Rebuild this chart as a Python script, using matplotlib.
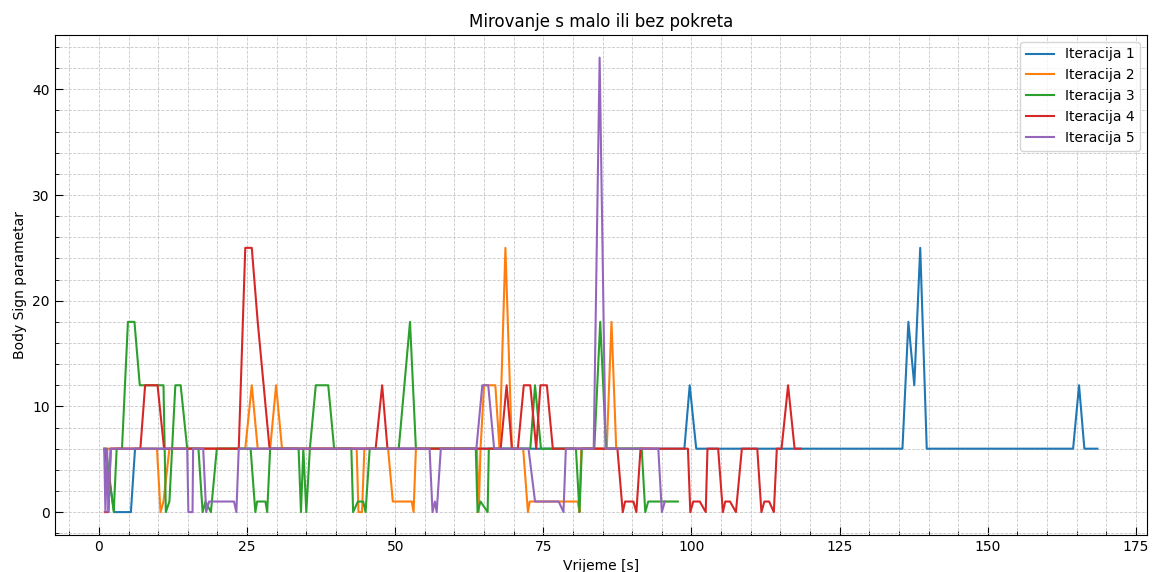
import matplotlib
matplotlib.use("Agg")
import matplotlib.pyplot as plt

# (time [s], body sign value) breakpoints
iteracija_1 = [(0.9, 6), (2.6, 0), (5.4, 0), (6.1, 6), (98.8, 6), (99.7, 12), (100.8, 6),
               (135.6, 6), (136.6, 18), (137.6, 12), (138.6, 25), (139.7, 6),
               (164.4, 6), (165.4, 12), (166.3, 6), (168.5, 6)]

iteracija_2 = [(1.0, 6), (9.8, 6), (10.4, 0), (10.9, 1), (11.9, 6), (24.7, 6), (25.8, 12),
               (26.8, 6), (28.9, 6), (29.9, 12), (30.9, 6), (43.5, 6), (43.8, 0), (44.4, 0),
               (44.8, 6), (48.8, 6), (49.6, 1), (52.8, 1), (53.1, 0), (53.5, 6), (63.8, 6),
               (64.1, 0), (64.4, 6), (65.0, 12), (66.9, 12), (67.6, 6), (68.6, 25), (69.7, 6),
               (71.6, 6), (72.4, 0), (72.7, 1), (80.8, 1), (81.1, 0), (81.4, 6), (85.7, 6),
               (86.5, 18), (87.3, 6), (93.0, 6)]

iteracija_3 = [(1.2, 6), (2.5, 0), (3.0, 6), (3.9, 6), (4.9, 18), (6.0, 18), (6.9, 12),
               (10.9, 12), (11.3, 0), (11.9, 1), (12.9, 12), (13.8, 12), (14.9, 6), (16.8, 6),
               (17.5, 0), (18.0, 1), (18.9, 0), (19.9, 6), (25.6, 6), (26.4, 0), (26.7, 1),
               (28.1, 1), (28.4, 0), (28.9, 6), (33.7, 6), (34.1, 0), (34.5, 6), (35.0, 0),
               (35.6, 6), (36.6, 12), (38.7, 12), (39.7, 6), (42.6, 6), (42.9, 0), (43.7, 1),
               (44.6, 1), (45.0, 0), (45.7, 6), (50.6, 6), (52.5, 18), (53.5, 6), (63.6, 6),
               (63.9, 0), (64.4, 1), (65.6, 0), (65.8, 6), (72.8, 6), (73.6, 12), (74.6, 6),
               (80.5, 6), (81.1, 0), (81.5, 6), (83.6, 6), (84.6, 18), (85.6, 6), (91.6, 6),
               (92.2, 0), (92.7, 1), (97.7, 1)]

iteracija_4 = [(1.0, 0), (1.6, 0), (2.0, 6), (7.0, 6), (7.8, 12), (9.9, 12), (11.0, 6),
               (23.6, 6), (24.7, 25), (25.8, 25), (26.8, 18), (27.8, 12), (28.8, 6),
               (46.7, 6), (47.8, 12), (48.7, 6), (67.8, 6), (68.8, 12), (69.7, 6), (70.7, 6),
               (71.7, 12), (72.8, 12), (73.8, 6), (74.5, 12), (75.6, 12), (76.6, 6), (87.5, 6),
               (88.4, 0), (88.8, 1), (90.2, 1), (90.7, 0), (91.4, 6), (99.4, 6), (99.8, 0),
               (100.3, 1), (101.4, 1), (102.4, 0), (102.7, 6), (104.5, 6), (105.3, 0),
               (105.7, 1), (106.5, 1), (107.5, 0), (108.5, 6), (111.1, 6), (111.8, 0),
               (112.3, 1), (113.1, 1), (113.9, 0), (114.4, 6), (115.2, 6), (116.3, 12),
               (117.4, 6), (118.4, 6)]

iteracija_5 = [(0.9, 6), (1.1, 0), (1.4, 6), (1.6, 0), (2.0, 6), (14.9, 6), (15.1, 0),
               (15.8, 0), (15.9, 6), (17.6, 6), (18.1, 0), (18.6, 1), (22.8, 1), (23.2, 0),
               (23.6, 6), (55.8, 6), (56.3, 0), (56.7, 1), (57.0, 0), (57.7, 6), (63.7, 6),
               (64.7, 12), (65.7, 12), (66.7, 6), (72.5, 6), (73.6, 1), (77.6, 1), (78.4, 0),
               (78.8, 6), (83.5, 6), (84.5, 43), (85.5, 6), (94.4, 6), (95.0, 0), (95.5, 1)]

labels = ["Iteracija 1", "Iteracija 2", "Iteracija 3", "Iteracija 4", "Iteracija 5"]
series = [iteracija_1, iteracija_2, iteracija_3, iteracija_4, iteracija_5]

fig = plt.figure(figsize=(11.61, 5.72), dpi=100)
ax = fig.add_axes([0.047, 0.065, 0.941, 0.874])

for label, data in zip(labels, series):
    t = [p[0] for p in data]
    v = [p[1] for p in data]
    ax.plot(t, v, label=label, linewidth=1.5)

ax.set_title("Mirovanje s malo ili bez pokreta", fontsize=12)
ax.set_xlabel("Vrijeme [s]")
ax.set_ylabel("Body Sign parametar")

ax.minorticks_on()
ax.tick_params(which="both", direction="in")
ax.tick_params(which="major", length=6)
ax.tick_params(which="minor", length=3)
ax.grid(True, which="both", linestyle="--", color="#c8c8c8", linewidth=0.6)
ax.set_axisbelow(True)

ax.legend(loc="upper right")

fig.savefig("out.png", dpi=100)
